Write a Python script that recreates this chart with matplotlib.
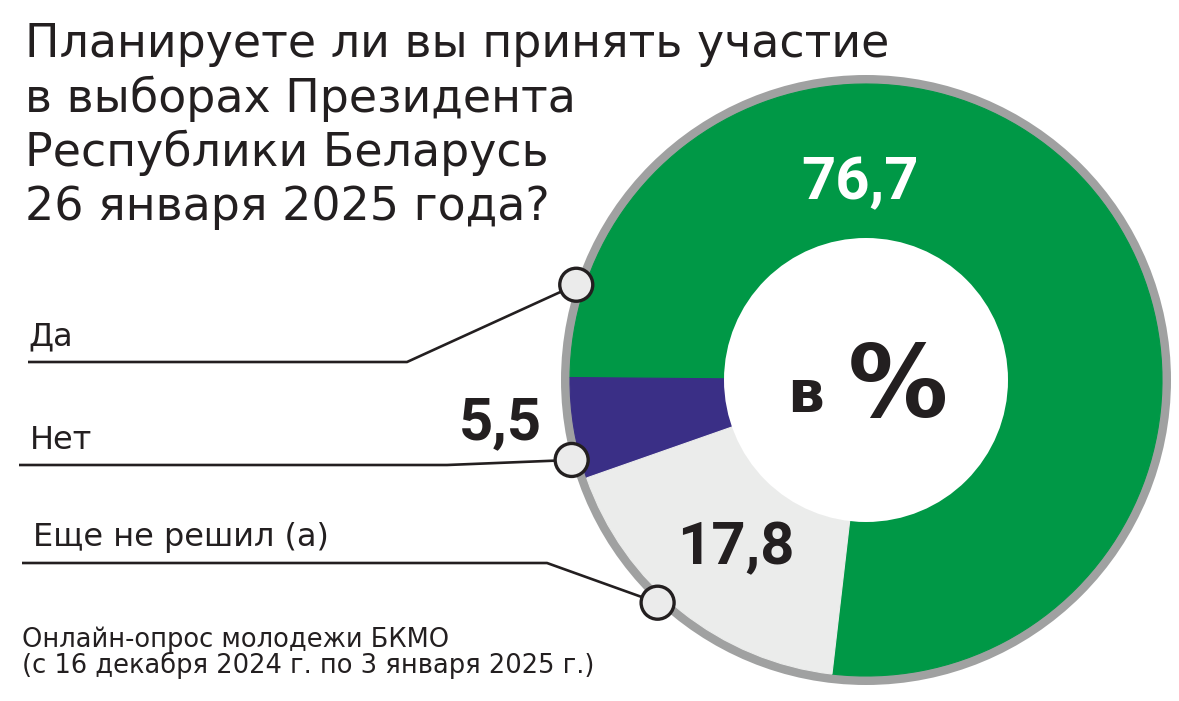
import numpy as np
import matplotlib.pyplot as plt
from matplotlib.patches import Circle

W, H = 1179, 701

# Survey answers and shares, %
categories = ["Да", "Нет", "Еще не решил (а)"]
values = [76.7, 5.5, 17.8]
value_labels = ["76,7", "5,5", "17,8"]
colors = ["#009846", "#3a2f86", "#ebeceb"]

title_lines = [
    "Планируете ли вы принять участие",
    "в выборах Президента",
    "Республики Беларусь",
    "26 января 2025 года?",
]
source_lines = [
    "Онлайн-опрос молодежи БКМО",
    "(с 16 декабря 2024 г. по 3 января 2025 г.)",
]
center_text = ("в", "%")

DARK = "#231f20"
RING = "#a0a1a1"
TEXT_FONT = "DejaVu Sans"
NUM_FONT = "Roboto"

fig = plt.figure(figsize=(W / 100, H / 100), dpi=100)
fig.patch.set_facecolor("white")
ax = fig.add_axes([0, 0, 1, 1])


def Y(y):
    """Convert a top-down pixel row into the axes' bottom-up y."""
    return H - y


cx, cy = 866, Y(380)
R_out, R, R_in = 305, 296, 141.5

# grey rim behind the donut
ax.add_patch(Circle((cx, cy), R_out, facecolor=RING, edgecolor="none", zorder=1))

wedges, _ = ax.pie(values, colors=colors, startangle=-96.6, counterclock=True,
                   radius=R, center=(cx, cy), frame=True,
                   wedgeprops=dict(width=R - R_in, linewidth=0.8))
for w in wedges:
    w.set_edgecolor(w.get_facecolor())
    w.set_zorder(2)

# white hole of the donut
ax.add_patch(Circle((cx, cy), R_in + 0.5, facecolor="white", edgecolor="none", zorder=2.5))

ax.set_xlim(0, W)
ax.set_ylim(0, H)
ax.set_aspect("equal")
ax.axis("off")

# leader lines from category labels to marker dots on the rim
marker_angles = [161.8, 195.2, 226.9]
leader_rows = [362, 465, 563]
leader_starts = [28, 19, 22]
leader_bends = [407, 447, 547]
label_pos = [(28, 345), (30, 449), (33, 546)]

for cat, ang, row, x0, xb, (lx, ly) in zip(categories, marker_angles, leader_rows,
                                           leader_starts, leader_bends, label_pos):
    mx = cx + R_out * np.cos(np.radians(ang))
    my = cy + R_out * np.sin(np.radians(ang))
    ax.plot([x0, xb, mx], [Y(row), Y(row), my], color=DARK, lw=1.9,
            solid_capstyle="butt", zorder=3)
    ax.add_patch(Circle((mx, my), 16.5, facecolor="#ebebeb", edgecolor=DARK,
                        lw=2.4, zorder=4))
    ax.text(lx, Y(ly), cat, fontsize=23, family=TEXT_FONT, color=DARK,
            ha="left", va="baseline", zorder=5)

# value labels
ax.text(860, Y(199), value_labels[0], fontsize=43, family=NUM_FONT, weight="bold",
        color="white", ha="center", va="baseline", zorder=5)
ax.text(542, Y(439), value_labels[1], fontsize=43, family=NUM_FONT, weight="bold",
        color=DARK, ha="right", va="baseline", zorder=5)
ax.text(736, Y(564), value_labels[2], fontsize=43, family=NUM_FONT, weight="bold",
        color=DARK, ha="center", va="baseline", zorder=5)

# centre caption
ax.text(787, Y(412), center_text[0], fontsize=42, family=TEXT_FONT, weight="bold",
        color=DARK, ha="left", va="baseline", zorder=5)
ax.text(848, Y(417), center_text[1], fontsize=72, family=TEXT_FONT, weight="bold",
        color=DARK, ha="left", va="baseline", zorder=5)

# title
for i, line in enumerate(title_lines):
    ax.text(25, Y(57 + 54.5 * i), line, fontsize=33, family=TEXT_FONT,
            color=DARK, ha="left", va="baseline", zorder=5)

# source note
for i, line in enumerate(source_lines):
    ax.text(22, Y(647 + 26 * i), line, fontsize=18.5, family=TEXT_FONT,
            color=DARK, ha="left", va="baseline", zorder=5)

fig.savefig("out.png", dpi=100, facecolor="white")
